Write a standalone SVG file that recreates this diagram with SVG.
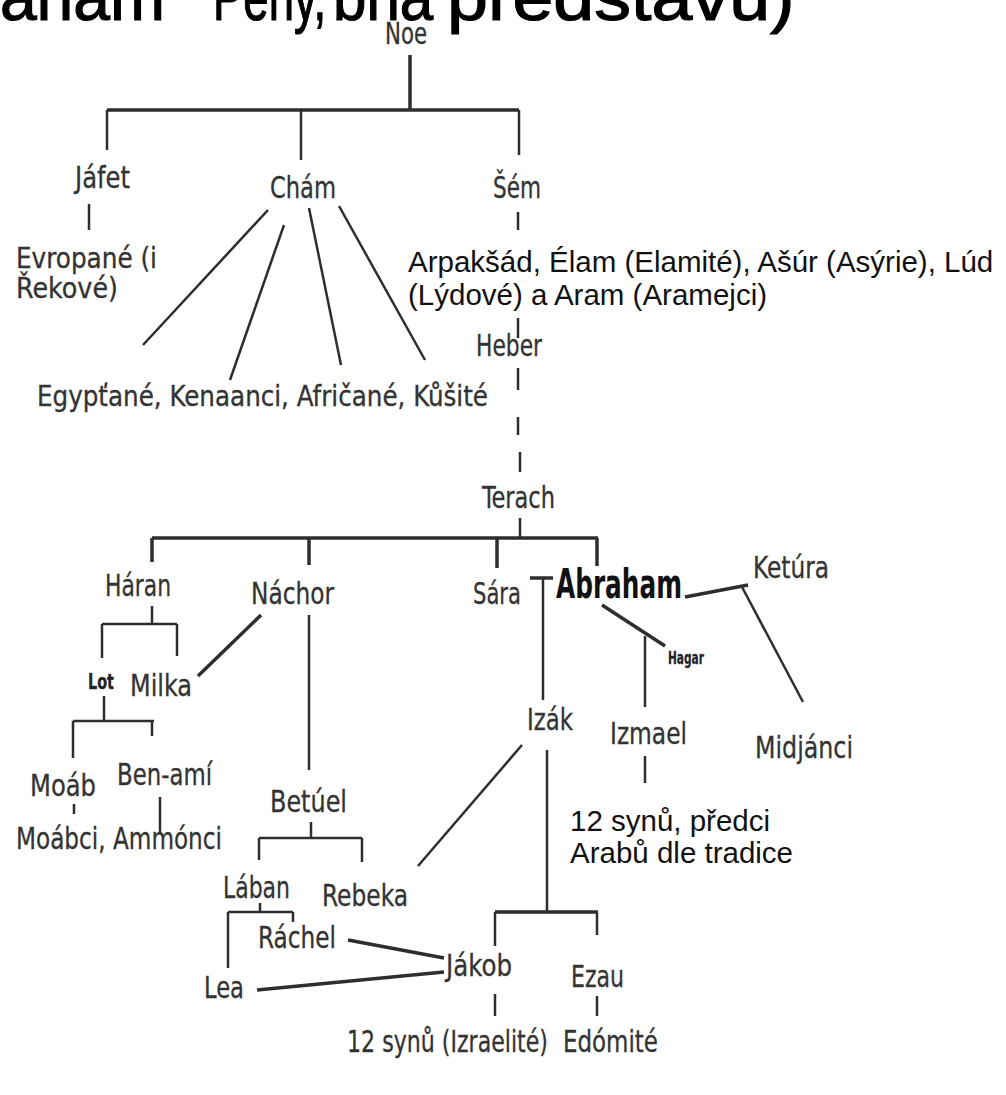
<svg xmlns="http://www.w3.org/2000/svg" width="1006" height="1095" viewBox="0 0 1006 1095">
<style>
.lbl{font-family:"Liberation Sans Narrow","DejaVu Sans Condensed","Liberation Sans",sans-serif;font-size:31px;fill:#333;stroke:#333;stroke-width:0.3}
.ar{font-family:"Liberation Sans",Arial,sans-serif;font-size:29.5px;fill:#111}
.ttl{font-family:"Liberation Sans",Arial,sans-serif;font-size:66px;fill:#000;stroke:#000;stroke-width:1.2}
.ln{stroke:#2e2e2e;stroke-width:2.5;fill:none;stroke-linecap:butt}
.thick{stroke-width:3.5}
</style>
<rect width="1006" height="1095" fill="#fff"/>
<g id="title">
<text class="ttl" x="165" y="20" text-anchor="end">Abraham</text>
<text class="ttl" transform="translate(213,20) scale(0.69,1)">Peny,</text>
<text class="ttl" transform="translate(333,20) scale(0.91,1)">bna</text>
<text class="ttl" transform="translate(447,20) scale(1.115,1)">představu)</text>
</g>
<g id="connectors">
<path class="ln thick" d="M410,55V110M107,110H519"/>
<path class="ln" d="M107,110V150M301,110V160M519,110V155"/>
<path class="ln" d="M89,204V230"/>
<path class="ln" d="M518,212V230M518,318V338M518,368V390M518,417V435M520,452V472M520,518V538"/>
<path class="ln" d="M268,210L143,345M284,225L230,380M309,208L341,365M339,206L425,360"/>
<path class="ln thick" d="M152,538H598"/>
<path class="ln thick" d="M152,538V562M309,538V565M497,538V568M597,538V566"/>
<path class="ln" d="M152,606V624M102,624H177M102,624V658M177,624V656"/>
<path class="ln thick" d="M261,615L198,676"/>
<path class="ln" d="M309,615V770"/>
<path class="ln" d="M104,696V721M73,721H154M73,721V758M152,721V736"/>
<path class="ln" d="M74,804V814M160,797V834"/>
<path class="ln" d="M311,822V838M259,838H362M259,838V860M362,838V862"/>
<path class="ln" d="M522,745L418,866"/>
<path class="ln" d="M260,903V912M228,912H293M228,912V968M293,912V922"/>
<path class="ln thick" d="M348,940L444,958M257,990L444,972"/>
<path class="ln thick" d="M530,578H553"/>
<path class="ln" d="M543,578V700"/>
<path class="ln thick" d="M685,597L748,585"/>
<path class="ln" d="M742,587L803,702"/>
<path class="ln thick" d="M602,605L665,646"/>
<path class="ln" d="M645,636V707M645,756V783"/>
<path class="ln" d="M547,750V912"/>
<path class="ln thick" d="M495,912H598"/>
<path class="ln" d="M495,912V946M597,912V935M495,994V1016M597,996V1016"/>
</g>
<g id="n-noe"><text class="lbl" x="385" y="44" textLength="42" lengthAdjust="spacingAndGlyphs">Noe</text></g>
<g id="n-jafet"><text class="lbl" x="75" y="188" textLength="55" lengthAdjust="spacingAndGlyphs">Jáfet</text></g>
<g id="n-cham"><text class="lbl" x="270" y="198" textLength="66" lengthAdjust="spacingAndGlyphs">Chám</text></g>
<g id="n-sem"><text class="lbl" x="493" y="198" textLength="48" lengthAdjust="spacingAndGlyphs">Šém</text></g>
<g id="n-evropane"><text class="lbl" style="font-size:28px"><tspan x="16" y="268" textLength="141" lengthAdjust="spacingAndGlyphs">Evropané (i</tspan><tspan x="16" y="298" textLength="102" lengthAdjust="spacingAndGlyphs">Řekové)</tspan></text></g>
<g id="n-arpaksad"><text class="ar"><tspan x="408" y="272">Arpakšád, Élam (Elamité), Ašúr (Asýrie), Lúd</tspan><tspan x="408" y="305">(Lýdové) a Aram (Aramejci)</tspan></text></g>
<g id="n-heber"><text class="lbl" x="476" y="356" textLength="66" lengthAdjust="spacingAndGlyphs">Heber</text></g>
<g id="n-egyptane"><text class="lbl" style="font-size:28px" x="37" y="406" textLength="451" lengthAdjust="spacingAndGlyphs">Egypťané, Kenaanci, Afričané, Kůšité</text></g>
<g id="n-terach"><text class="lbl" x="482" y="508" textLength="73" lengthAdjust="spacingAndGlyphs">Terach</text></g>
<g id="n-haran"><text class="lbl" x="105" y="596" textLength="66" lengthAdjust="spacingAndGlyphs">Háran</text></g>
<g id="n-nachor"><text class="lbl" x="251" y="604" textLength="83" lengthAdjust="spacingAndGlyphs">Náchor</text></g>
<g id="n-sara"><text class="lbl" x="473" y="604" textLength="48" lengthAdjust="spacingAndGlyphs">Sára</text></g>
<g id="n-abraham"><text x="556" y="598" textLength="126" lengthAdjust="spacingAndGlyphs" style="font-family:'DejaVu Sans','Liberation Sans',sans-serif;font-weight:bold;font-size:40px;fill:#111">Abraham</text></g>
<g id="n-ketura"><text class="lbl" x="753" y="578" textLength="76" lengthAdjust="spacingAndGlyphs">Ketúra</text></g>
<g id="n-hagar"><text class="lbl" x="668" y="664" textLength="36" lengthAdjust="spacingAndGlyphs" style="font-size:18px;font-weight:bold;fill:#222">Hagar</text></g>
<g id="n-lot"><text class="lbl" x="88" y="689" textLength="26" lengthAdjust="spacingAndGlyphs" style="font-size:22px;font-weight:bold;fill:#222">Lot</text></g>
<g id="n-milka"><text class="lbl" x="130" y="696" textLength="62" lengthAdjust="spacingAndGlyphs">Milka</text></g>
<g id="n-izak"><text class="lbl" x="527" y="730" textLength="46" lengthAdjust="spacingAndGlyphs">Izák</text></g>
<g id="n-izmael"><text class="lbl" x="610" y="744" textLength="77" lengthAdjust="spacingAndGlyphs">Izmael</text></g>
<g id="n-midjanci"><text class="lbl" x="755" y="758" textLength="98" lengthAdjust="spacingAndGlyphs">Midjánci</text></g>
<g id="n-moab"><text class="lbl" x="30" y="796" textLength="66" lengthAdjust="spacingAndGlyphs">Moáb</text></g>
<g id="n-benami"><text class="lbl" x="117" y="785" textLength="95" lengthAdjust="spacingAndGlyphs">Ben-amí</text></g>
<g id="n-betuel"><text class="lbl" x="270" y="812" textLength="77" lengthAdjust="spacingAndGlyphs">Betúel</text></g>
<g id="n-12arabu"><text class="ar"><tspan x="570" y="831">12 synů, předci</tspan><tspan x="570" y="863">Arabů dle tradice</tspan></text></g>
<g id="n-moabci"><text class="lbl" x="16" y="849" textLength="206" lengthAdjust="spacingAndGlyphs">Moábci, Ammónci</text></g>
<g id="n-laban"><text class="lbl" x="223" y="898" textLength="67" lengthAdjust="spacingAndGlyphs">Lában</text></g>
<g id="n-rebeka"><text class="lbl" x="322" y="906" textLength="86" lengthAdjust="spacingAndGlyphs">Rebeka</text></g>
<g id="n-rachel"><text class="lbl" x="258" y="948" textLength="78" lengthAdjust="spacingAndGlyphs">Ráchel</text></g>
<g id="n-jakob"><text class="lbl" x="446" y="976" textLength="66" lengthAdjust="spacingAndGlyphs">Jákob</text></g>
<g id="n-ezau"><text class="lbl" x="571" y="987" textLength="53" lengthAdjust="spacingAndGlyphs">Ezau</text></g>
<g id="n-lea"><text class="lbl" x="204" y="998" textLength="40" lengthAdjust="spacingAndGlyphs">Lea</text></g>
<g id="n-izraelite"><text class="lbl" x="347" y="1052" textLength="201" lengthAdjust="spacingAndGlyphs">12 synů (Izraelité)</text></g>
<g id="n-edomite"><text class="lbl" x="563" y="1052" textLength="95" lengthAdjust="spacingAndGlyphs">Edómité</text></g>
</svg>
